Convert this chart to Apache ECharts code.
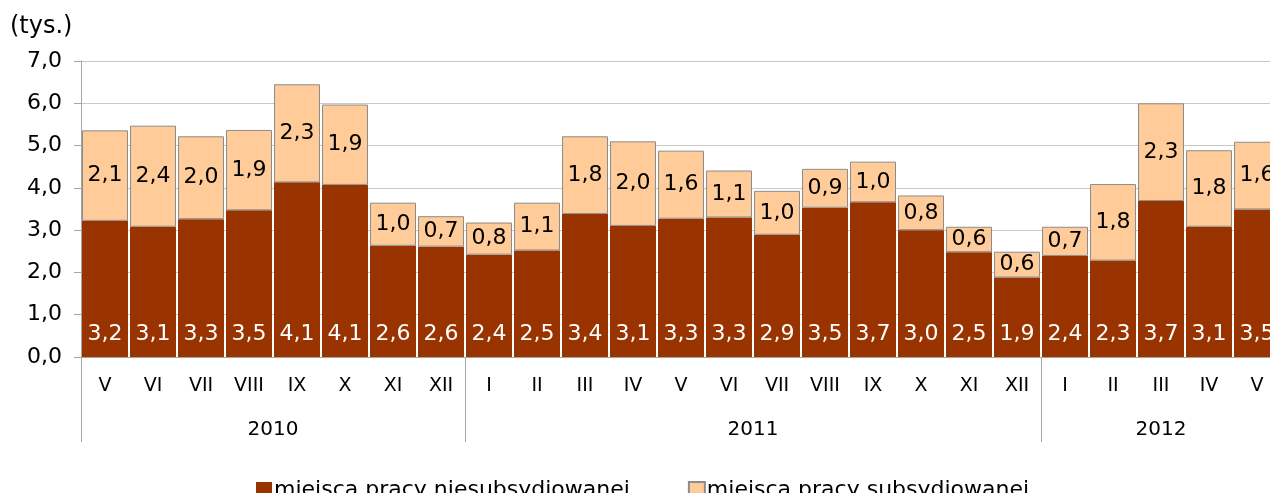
<!DOCTYPE html>
<html>
<head>
<meta charset="utf-8">
<script src="https://cdn.jsdelivr.net/npm/echarts@6/dist/echarts.min.js"></script>
<style>
  html, body { margin: 0; padding: 0; background: #fff; overflow: hidden; }
  #chart { width: 1300px; height: 493px; }
</style>
</head>
<body>
<div id="chart"></div>
<script>
var months = ["V", "VI", "VII", "VIII", "IX", "X", "XI", "XII",
  "I", "II", "III", "IV", "V", "VI", "VII", "VIII", "IX", "X", "XI", "XII",
  "I", "II", "III", "IV", "V"];
var years = ["2010", "2011", "2012"];
var yearStarts = [0, 8, 20];
var yearCenters = [4, 14, 22.5];
// wartości (etykiety = zaokrąglenie do 0,1)
var niesubsydiowane = [3.22, 3.08, 3.26, 3.47, 4.13, 4.07, 2.63, 2.61,
  2.42, 2.52, 3.38, 3.10, 3.27, 3.30, 2.89, 3.53, 3.66, 3.00, 2.48, 1.88,
  2.39, 2.28, 3.69, 3.08, 3.49];
var subsydiowane = [2.14, 2.39, 1.96, 1.90, 2.32, 1.90, 1.02, 0.72,
  0.76, 1.13, 1.84, 2.00, 1.61, 1.11, 1.04, 0.92, 0.96, 0.82, 0.60, 0.61,
  0.69, 1.81, 2.31, 1.81, 1.60];

var fontName = "DejaVu Sans";
var fmt = function (v) { return v.toFixed(1).replace(".", ","); };

var chart = echarts.init(document.getElementById("chart"));
chart.setOption({
  animation: false,
  textStyle: { fontFamily: fontName },
  title: {
    text: "(tys.)",
    left: 5,
    top: 10,
    textStyle: { fontFamily: fontName, fontSize: 24, fontWeight: "normal", color: "#000" }
  },
  legend: {
    left: 251,
    top: 474,
    itemGap: 58,
    itemWidth: 16,
    itemHeight: 16,
    icon: "rect",
    textStyle: { fontFamily: fontName, fontSize: 22, color: "#000", padding: [0, 0, 0, -3] },
    data: ["miejsca pracy niesubsydiowanej", "miejsca pracy subsydiowanej"]
  },
  grid: { left: 81, top: 61, width: 1200, height: 296 },
  xAxis: [
    {
      type: "category",
      data: months,
      axisLine: { lineStyle: { color: "#a6a6a6" } },
      axisTick: { interval: 0, length: 43, lineStyle: { color: "#a6a6a6" } },
      axisLabel: { interval: 0, margin: 20, fontFamily: fontName, fontSize: 19, color: "#000" }
    },
    {
      type: "value",
      min: 0,
      max: 25,
      position: "bottom",
      axisLine: { show: false },
      splitLine: { show: false },
      axisTick: { show: true, length: 85, customValues: yearStarts, lineStyle: { color: "#a6a6a6" } },
      axisLabel: {
        margin: 63,
        customValues: yearCenters,
        fontFamily: fontName,
        fontSize: 20,
        color: "#000",
        formatter: function (v) { return years[yearCenters.indexOf(v)]; }
      }
    }
  ],
  yAxis: {
    type: "value",
    min: 0,
    max: 7,
    interval: 1,
    axisLine: { show: true, lineStyle: { color: "#a6a6a6" } },
    axisTick: { show: true, length: 7, lineStyle: { color: "#a6a6a6" } },
    splitLine: { lineStyle: { color: "#c8c8c8" } },
    axisLabel: {
      margin: 19,
      fontFamily: fontName,
      fontSize: 22,
      color: "#000",
      formatter: fmt
    }
  },
  series: [
    {
      name: "miejsca pracy niesubsydiowanej",
      type: "bar",
      stack: "all",
      xAxisIndex: 0,
      barWidth: 46,
      itemStyle: { color: "#993300" },
      label: {
        show: true,
        position: "insideBottom",
        distance: 12,
        color: "#fff",
        fontFamily: fontName,
        fontSize: 22,
        formatter: function (p) { return fmt(p.value); }
      },
      data: niesubsydiowane
    },
    {
      name: "miejsca pracy subsydiowanej",
      type: "bar",
      stack: "all",
      xAxisIndex: 0,
      barWidth: 46,
      itemStyle: { color: "#ffcc99", borderColor: "#8c8c8c", borderWidth: 1 },
      label: {
        show: true,
        position: "inside",
        color: "#000",
        fontFamily: fontName,
        fontSize: 22,
        formatter: function (p) { return fmt(p.value); }
      },
      data: subsydiowane
    }
  ]
});
</script>
</body>
</html>
